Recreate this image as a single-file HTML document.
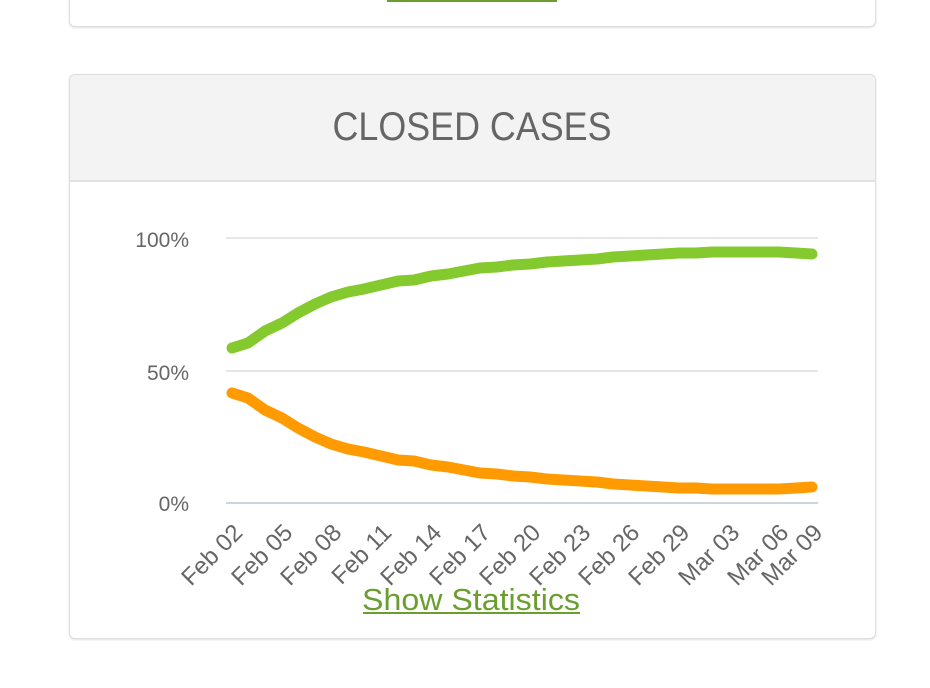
<!DOCTYPE html>
<html><head><meta charset="utf-8"><style>
body{margin:0;width:930px;height:688px;background:#fff;overflow:hidden;font-family:"Liberation Sans",sans-serif;position:relative}
.card{position:absolute;left:69px;width:805px;border:1px solid #ddd;border-radius:6px;background:#fff;box-shadow:0 1px 2px rgba(0,0,0,.12)}
</style></head><body>
<div class="card" style="top:-20px;height:45px"></div>
<div style="position:absolute;left:387px;top:0;width:170px;height:2px;background:#6a9e2f"></div>
<div class="card" style="top:74px;height:563px;overflow:hidden">
<div style="height:105px;background:#f3f3f3;border-bottom:2px solid #e2e2e2"></div>
</div>
<svg style="position:absolute;left:0;top:0" width="930" height="688">
<text x="472" y="140" font-size="40" fill="#666" text-anchor="middle" textLength="279" lengthAdjust="spacingAndGlyphs">CLOSED CASES</text>
<g stroke="#e6e6e6" stroke-width="2"><line x1="226" y1="238" x2="818" y2="238"/><line x1="226" y1="371" x2="818" y2="371"/></g>
<line x1="226" y1="503" x2="818" y2="503" stroke="#ccd6e0" stroke-width="2"/>
<g font-size="21" fill="#666" text-anchor="end"><text x="189" y="247">100%</text><text x="189" y="380">50%</text><text x="189" y="511">0%</text></g>
<polyline fill="none" stroke="#84c92d" stroke-width="11" stroke-linecap="round" stroke-linejoin="round" points="232,348 248,343 265,331 282,323 298,313 315,304 331,297 348,292 364,289 381,285 398,281 414,280 431,276 448,274 464,271 480,268 497,267 513,265 530,264 547,262 563,261 580,260 597,259 613,257 630,256 646,255 663,254 679,253 696,253 712,252 729,252 746,252 762,252 779,252 796,253 812,254"/>
<polyline fill="none" stroke="#ff9b00" stroke-width="11" stroke-linecap="round" stroke-linejoin="round" points="232,393 248,398 265,410 282,418 298,428 315,437 331,444 348,449 364,452 381,456 398,460 414,461 431,465 448,467 464,470 480,473 497,474 513,476 530,477 547,479 563,480 580,481 597,482 613,484 630,485 646,486 663,487 679,488 696,488 712,489 729,489 746,489 762,489 779,489 796,488 812,487"/>
<g font-size="24" fill="#666" text-anchor="end">
<text transform="translate(244,534) rotate(-45)">Feb 02</text>
<text transform="translate(294,534) rotate(-45)">Feb 05</text>
<text transform="translate(343,534) rotate(-45)">Feb 08</text>
<text transform="translate(393,534) rotate(-45)">Feb 11</text>
<text transform="translate(443,534) rotate(-45)">Feb 14</text>
<text transform="translate(492,534) rotate(-45)">Feb 17</text>
<text transform="translate(542,534) rotate(-45)">Feb 20</text>
<text transform="translate(592,534) rotate(-45)">Feb 23</text>
<text transform="translate(641,534) rotate(-45)">Feb 26</text>
<text transform="translate(691,534) rotate(-45)">Feb 29</text>
<text transform="translate(741,534) rotate(-45)">Mar 03</text>
<text transform="translate(790,534) rotate(-45)">Mar 06</text>
<text transform="translate(824,534) rotate(-45)">Mar 09</text>
</g>
<text x="471" y="610" font-size="31" fill="#6a9e2f" text-anchor="middle" textLength="218" lengthAdjust="spacingAndGlyphs">Show Statistics</text>
<line x1="363" y1="613" x2="580" y2="613" stroke="#6a9e2f" stroke-width="2"/>
</svg>
</body></html>
